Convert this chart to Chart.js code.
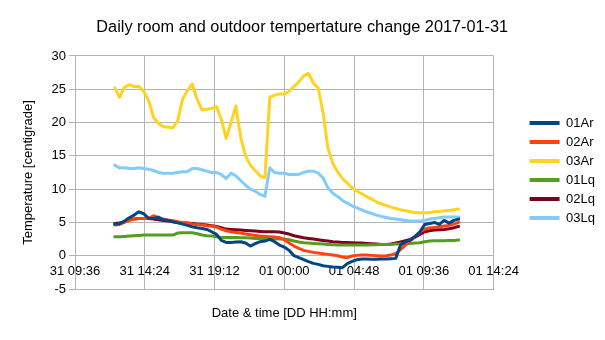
<!DOCTYPE html>
<html>
<head>
  <title>Daily room and outdoor temperature</title>
  <script src="https://cdn.jsdelivr.net/npm/chart.js"></script>
  <style>
    body { margin: 0; background: #fff; }
    canvas { display: block; }
  </style>
</head>
<body>
  <canvas id="chartCanvas" width="605" height="340"></canvas>

  <script>
    // readings every 20 minutes, 31 12:20 .. 01 12:00
    const times = [
      '31 12:20', '31 12:40', '31 13:00', '31 13:20', '31 13:40', '31 14:00', '31 14:20', '31 14:40',
      '31 15:00', '31 15:20', '31 15:40', '31 16:00', '31 16:20', '31 16:40', '31 17:00', '31 17:20',
      '31 17:40', '31 18:00', '31 18:20', '31 18:40', '31 19:00', '31 19:20', '31 19:40', '31 20:00',
      '31 20:20', '31 20:40', '31 21:00', '31 21:20', '31 21:40', '31 22:00', '31 22:20', '31 22:40',
      '31 23:00', '31 23:20', '31 23:40',
      '01 00:00', '01 00:20', '01 00:40', '01 01:00', '01 01:20', '01 01:40', '01 02:00', '01 02:20',
      '01 02:40', '01 03:00', '01 03:20', '01 03:40', '01 04:00', '01 04:20', '01 04:40', '01 05:00',
      '01 05:20', '01 05:40', '01 06:00', '01 06:20', '01 06:40', '01 07:00', '01 07:20', '01 07:40',
      '01 08:00', '01 08:20', '01 08:40', '01 09:00', '01 09:20', '01 09:40', '01 10:00', '01 10:20',
      '01 10:40', '01 11:00', '01 11:20', '01 11:40', '01 12:00'
    ];

    const seriesNames = ['01Ar', '02Ar', '03Ar', '01Lq', '02Lq', '03Lq'];
    const seriesColors = ['#004586', '#ff420e', '#ffd320', '#579d1c', '#7e0021', '#83caff'];

    const ar01 = [4.75, 4.8, 5.2, 5.7, 6.1, 6.6, 6.3, 5.6, 5.6, 5.8, 5.4, 5.3, 5.1, 4.95, 4.75, 4.55, 4.35, 4.2,
      4.1, 3.95, 3.6, 3.2, 2.3, 2.0, 2.0, 2.05, 2.1, 1.9, 1.45, 1.8, 2.1, 2.2, 2.45, 2.1, 1.6, 1.3, 0.8, 0.0,
      -0.3, -0.6, -0.9, -1.15, -1.3, -1.5, -1.6, -1.7, -1.75, -1.8, -1.2, -0.85, -0.6, -0.5, -0.5, -0.55,
      -0.55, -0.5, -0.5, -0.45, -0.4, 1.6, 2.1, 2.35, 2.9, 3.6, 4.7, 4.85, 5.0, 4.7, 5.3, 4.9, 5.3, 5.5];
    const ar02 = [4.6, 4.7, 5.0, 5.3, 5.5, 5.6, 5.6, 5.6, 6.0, 5.7, 5.5, 5.35, 5.25, 5.1, 5.0, 4.9, 4.75, 4.7,
      4.6, 4.5, 4.45, 4.3, 4.0, 3.75, 3.6, 3.5, 3.4, 3.25, 3.15, 3.05, 2.95, 2.9, 2.85, 2.8, 2.7, 2.4, 1.9,
      1.45, 1.1, 0.8, 0.65, 0.5, 0.4, 0.3, 0.2, 0.1, 0.0, -0.2, -0.3, -0.05, 0.05, 0.1, 0.1, 0.05, 0.0,
      -0.05, 0.0, 0.1, 0.3, 0.9, 1.6, 2.25, 2.85, 3.55, 4.0, 4.15, 4.25, 4.35, 4.45, 4.55, 4.75, 5.0];
    const ar03 = [25.2, 23.8, 25.3, 25.7, 25.4, 25.4, 24.7, 23.3, 20.8, 19.9, 19.4, 19.3, 19.2, 20.3, 23.5,
      24.8, 25.8, 23.5, 21.9, 22.0, 22.1, 22.4, 20.5, 17.6, 20.0, 22.5, 17.8, 15.0, 13.6, 12.8, 12.0, 11.7,
      23.8, 24.1, 24.3, 24.3, 24.7, 25.4, 26.1, 27.0, 27.4, 25.9, 25.2, 21.5, 16.2, 13.9, 12.6, 11.6, 10.9,
      10.2, 9.7, 9.3, 8.9, 8.5, 8.1, 7.8, 7.55, 7.3, 7.1, 6.9, 6.75, 6.6, 6.5, 6.45, 6.45, 6.5, 6.6, 6.65,
      6.7, 6.8, 6.9, 7.0];
    const lq01 = [2.85, 2.85, 2.9, 2.95, 3.0, 3.05, 3.1, 3.1, 3.1, 3.1, 3.1, 3.1, 3.1, 3.4, 3.45, 3.45, 3.45,
      3.3, 3.1, 3.0, 2.95, 2.85, 2.75, 2.75, 2.75, 2.75, 2.7, 2.7, 2.65, 2.6, 2.6, 2.6, 2.55, 2.55, 2.5, 2.5,
      2.4, 2.2, 2.05, 1.95, 1.9, 1.85, 1.8, 1.75, 1.7, 1.65, 1.6, 1.6, 1.6, 1.6, 1.6, 1.6, 1.6, 1.65, 1.65,
      1.7, 1.7, 1.7, 1.75, 1.75, 1.8, 1.85, 1.9, 1.95, 2.1, 2.2, 2.25, 2.25, 2.25, 2.3, 2.3, 2.35];
    const lq02 = [4.85, 4.9, 5.1, 5.35, 5.5, 5.6, 5.6, 5.6, 5.5, 5.4, 5.3, 5.2, 5.1, 5.0, 4.95, 4.9, 4.85,
      4.75, 4.7, 4.6, 4.5, 4.4, 4.2, 4.0, 3.95, 3.9, 3.85, 3.8, 3.75, 3.7, 3.65, 3.6, 3.6, 3.6, 3.55, 3.4,
      3.25, 3.0, 2.85, 2.7, 2.6, 2.5, 2.4, 2.3, 2.2, 2.1, 2.05, 2.0, 2.0, 1.95, 1.9, 1.9, 1.85, 1.8, 1.75,
      1.7, 1.7, 1.75, 1.9, 2.05, 2.25, 2.45, 2.8, 3.2, 3.6, 3.75, 3.85, 3.9, 3.95, 4.05, 4.2, 4.4];
    const lq03 = [13.6, 13.2, 13.2, 13.1, 13.1, 13.2, 13.1, 13.0, 12.8, 12.5, 12.4, 12.4, 12.4, 12.5, 12.6,
      12.6, 13.1, 13.1, 12.9, 12.7, 12.5, 12.5, 12.2, 11.6, 12.4, 12.0, 11.3, 10.6, 10.0, 9.7, 9.2, 8.9,
      13.2, 12.5, 12.4, 12.4, 12.2, 12.2, 12.2, 12.5, 12.7, 12.7, 12.4, 11.7, 10.2, 9.4, 8.9, 8.3, 7.9, 7.5,
      7.2, 6.9, 6.6, 6.35, 6.1, 5.9, 5.75, 5.6, 5.5, 5.4, 5.3, 5.2, 5.2, 5.2, 5.3, 5.5, 5.6, 5.7, 5.8, 5.8,
      5.8, 5.8];

    // axis range: 31 09:36 .. 01 14:24, one grid line every 4h48
    const xMin = 576;
    const xMax = 2304;
    const xStep = 288;

    const gridColor = '#b3b3b3';
    Chart.defaults.font.family = '"Liberation Sans", Arial, sans-serif';
    Chart.defaults.color = '#000';

    // '31 12:20' -> minutes since 31 00:00
    function toMinutes(t) {
      const day = t.slice(0, 2) === '31' ? 0 : 1;
      const hh = parseInt(t.slice(3, 5));
      const mm = parseInt(t.slice(6, 8));
      return day * 1440 + hh * 60 + mm;
    }

    function formatTick(value) {
      const day = value >= 1440 ? '01' : '31';
      const m = value % 1440;
      const hh = String(Math.floor(m / 60)).padStart(2, '0');
      const mm = String(m % 60).padStart(2, '0');
      return day + ' ' + hh + ':' + mm;
    }

    const allSeries = [ar01, ar02, ar03, lq01, lq02, lq03];
    const datasets = allSeries.map((values, i) => ({
      label: seriesNames[i],
      data: times.map((t, k) => ({ x: toMinutes(t), y: values[k] })),
      borderColor: seriesColors[i],
      backgroundColor: seriesColors[i],
      borderWidth: 3,
      pointRadius: 0,
      borderJoinStyle: 'round',
      borderCapStyle: 'round',
      tension: 0,
      fill: false
    }));

    // legend sits a bit away from the plot, title centred on the page
    const boxShift = {
      id: 'boxShift',
      afterLayout(chart) {
        const lg = chart.legend;
        lg.left += 30;
        lg.right += 30;
        lg.top -= 2;
        lg.bottom -= 2;
        const tt = chart.titleBlock;
        if (tt) {
          tt.left += 6.5;
          tt.right += 6.5;
        }
      }
    };

    new Chart(document.getElementById('chartCanvas').getContext('2d'), {
      type: 'line',
      data: { datasets: datasets },
      plugins: [boxShift],
      options: {
        responsive: false,
        animation: false,
        devicePixelRatio: 1,
        layout: { padding: { left: 16.5, right: 30, top: 0, bottom: 15 } },
        scales: {
          x: {
            type: 'linear',
            position: 'bottom',
            min: xMin,
            max: xMax,
            ticks: { display: false, stepSize: xStep },
            grid: { color: gridColor, drawTicks: false },
            border: { color: gridColor },
            title: {
              display: true,
              text: 'Date & time [DD HH:mm]',
              font: { size: 13 },
              padding: { top: 4, bottom: 4 }
            },
            afterFit: function (scale) { scale.height = 36; }
          },
          xLabels: {
            type: 'linear',
            axis: 'x',
            position: { y: 0 },
            min: xMin,
            max: xMax,
            ticks: {
              stepSize: xStep,
              autoSkip: false,
              maxRotation: 0,
              padding: 8,
              font: { size: 13 },
              callback: formatTick
            },
            grid: { display: false, drawTicks: false },
            border: { display: false },
            afterFit: function (scale) { scale.height = 0; }
          },
          y: {
            min: -5,
            max: 30,
            ticks: { stepSize: 5, padding: 3, font: { size: 13 } },
            grid: { color: gridColor, tickLength: 6 },
            border: { color: gridColor },
            title: {
              display: true,
              text: 'Temperature [centigrade]',
              font: { size: 13 },
              padding: { top: 4, bottom: 4 }
            },
            afterFit: function (scale) { scale.width = 58.5; }
          }
        },
        plugins: {
          title: {
            display: true,
            text: 'Daily room and outdoor tempertature change 2017-01-31',
            font: { size: 16.3, weight: 'normal' },
            color: '#000',
            padding: { top: 18.2, bottom: 18.2 }
          },
          legend: {
            position: 'right',
            fullSize: false,
            labels: {
              font: { size: 13 },
              boxWidth: 30,
              boxHeight: 4,
              padding: 6,
              generateLabels: function (chart) {
                const items = Chart.defaults.plugins.legend.labels.generateLabels(chart);
                items.forEach(it => { it.lineWidth = 0; });
                return items;
              }
            }
          },
          tooltip: { enabled: false }
        }
      }
    });
  </script>
</body>
</html>
